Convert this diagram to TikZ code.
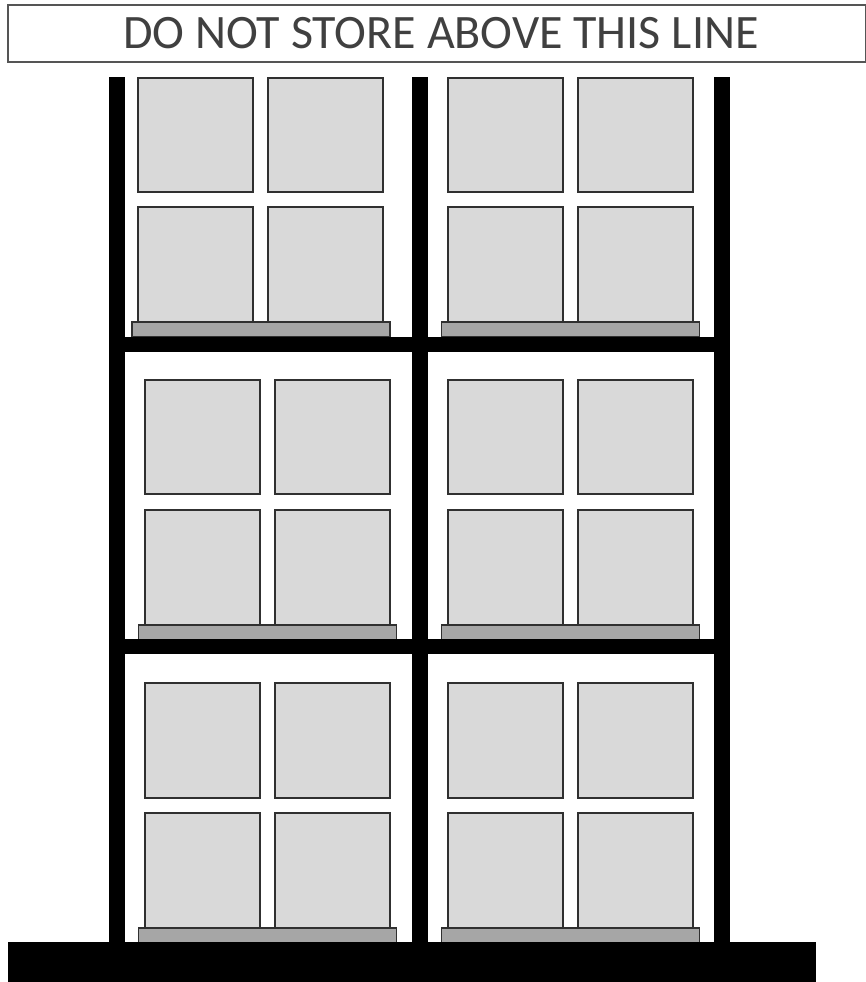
\documentclass[tikz,border=0pt]{standalone}
\usepackage{fontspec}
\setmainfont{Carlito}
\tikzset{
  x=0.75pt,y=-0.75pt,
  steel/.style={fill=black,draw=none},
  carton/.style={fill=boxgrey,draw=edgegrey,line width=1.5pt},
  pallet/.style={fill=palletgrey,draw=edgegrey,line width=1.4pt},
  banner/.style={fill=white,draw=bannergrey,line width=1.2pt}
}
\definecolor{boxgrey}{HTML}{D9D9D9}
\definecolor{palletgrey}{HTML}{A6A6A6}
\definecolor{edgegrey}{HTML}{303030}
\definecolor{bannergrey}{HTML}{555555}
% #1 left x of carton block, #2 top y of carton block, #3 pallet left x, #4 pallet top y
\newcommand{\palletload}[4]{%
  \draw[carton] (#1,#2) rectangle ++(115,114.5);
  \draw[carton] (#1+130,#2) rectangle ++(115,114.5);
  \draw[carton] (#1,#4-115.5) rectangle (#1+115,#4);
  \draw[carton] (#1+130,#4-115.5) rectangle (#1+245,#4);
  \draw[pallet] (#3,#4) rectangle (#3+258,#4+15);
}
\begin{document}
\begin{tikzpicture}
\useasboundingbox (0,0) rectangle (865,982);
\fill[white] (0,0) rectangle (865,982);
\draw[banner] (8,5) rectangle (865.5,62);
\node[font=\fontsize{36pt}{40pt}\selectfont,text=black!75,inner sep=0pt,anchor=base] (label) at (441,48) {DO NOT STORE ABOVE THIS LINE};
\palletload{138}{77.5}{132}{322}
\palletload{448}{77.5}{441.5}{322}
\palletload{145}{379.5}{138.5}{625}
\palletload{448}{379.5}{441.5}{625}
\palletload{145}{683}{138.5}{928}
\palletload{448}{683}{441.5}{928}
\fill[steel] (109,77) rectangle (124.5,943);
\fill[steel] (412,77) rectangle (427.5,943);
\fill[steel] (714,77) rectangle (729.5,943);
\fill[steel] (109,337) rectangle (729.5,351.5);
\fill[steel] (109,639) rectangle (729.5,653.5);
\fill[steel] (7.5,942) rectangle (816,982);
\end{tikzpicture}
\end{document}
